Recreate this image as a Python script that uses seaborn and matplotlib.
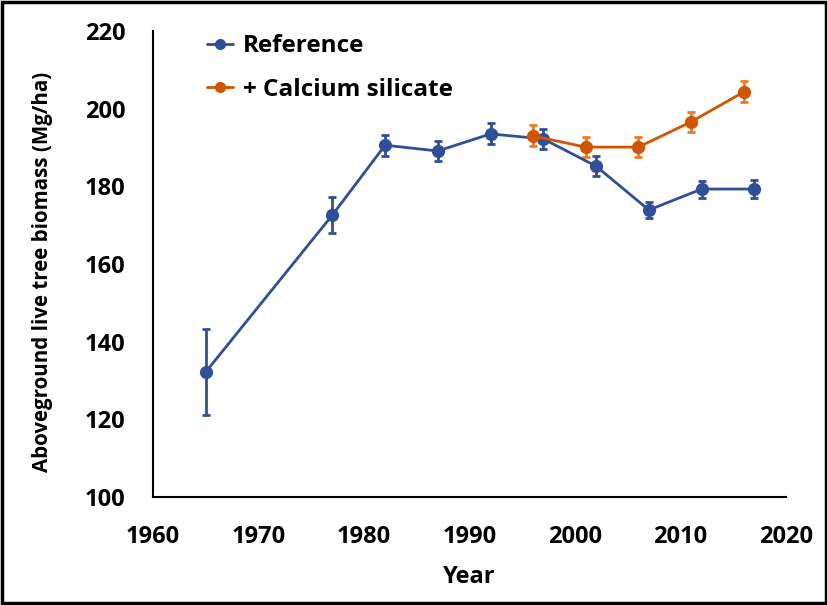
import matplotlib
matplotlib.use("Agg")
import matplotlib.pyplot as plt
import seaborn as sns
import pandas as pd
from matplotlib.patches import Rectangle

ref_years = [1965, 1977, 1982, 1987, 1992, 1997, 2002, 2007, 2012, 2017]
ref_vals = [132.2, 172.6, 190.6, 189.1, 193.5, 192.2, 185.2, 173.9, 179.3, 179.3]
ref_err = [11.0, 4.7, 2.7, 2.6, 2.7, 2.6, 2.5, 2.0, 2.2, 2.3]

ca_years = [1996, 2001, 2006, 2011, 2016]
ca_vals = [193.0, 190.1, 190.1, 196.6, 204.3]
ca_err = [2.7, 2.5, 2.5, 2.5, 2.7]

series_names = ["Reference", "+ Calcium silicate"]
line_colors = ["#2F4F9C", "#D35400"]
cap_colors = ["#2F4F9C", "#F07A1E"]

x_ticks = [1960, 1970, 1980, 1990, 2000, 2010, 2020]
y_ticks = [100, 120, 140, 160, 180, 200, 220]

sns.set_theme(style="white")
plt.rcParams['font.family'] = ['Open Sans', 'DejaVu Sans']
plt.rcParams['font.weight'] = 'bold'
plt.rcParams['text.color'] = 'black'
plt.rcParams['axes.labelcolor'] = 'black'
plt.rcParams['xtick.color'] = 'black'
plt.rcParams['ytick.color'] = 'black'

df = pd.concat([
    pd.DataFrame({"Year": ref_years, "Biomass": ref_vals, "err": ref_err, "Series": series_names[0]}),
    pd.DataFrame({"Year": ca_years, "Biomass": ca_vals, "err": ca_err, "Series": series_names[1]}),
])

fig = plt.figure(figsize=(8.28, 6.05), dpi=100)
ax = fig.add_axes([153/828, 108/605, 633/828, 466/605])

for name, lc, cc in zip(series_names, line_colors, cap_colors):
    sub = df[df.Series == name]
    ax.errorbar(sub.Year, sub.Biomass, yerr=sub.err, fmt='none', ecolor=cc,
                elinewidth=2, capsize=3, capthick=2, zorder=2)

sns.lineplot(data=df, x="Year", y="Biomass", hue="Series", palette=line_colors,
             hue_order=series_names, marker='o', markersize=9.5, markeredgewidth=0,
             linewidth=2, ax=ax, zorder=3, legend=True)

ax.set_xlim(1960, 2020)
ax.set_ylim(100, 220)
ax.set_xticks(x_ticks)
ax.set_yticks(y_ticks)
ax.tick_params(axis='both', direction='in', length=6, width=1.5, colors='black',
               labelcolor='black', labelsize=17)
for lab in ax.get_xticklabels() + ax.get_yticklabels():
    lab.set_fontweight('bold')
ax.tick_params(axis='x', pad=20)
ax.tick_params(axis='y', pad=20)
for s in ['top', 'right']:
    ax.spines[s].set_visible(False)
for s in ['left', 'bottom']:
    ax.spines[s].set_color('black')
    ax.spines[s].set_linewidth(1.5)

ax.set_xlabel("Year", fontsize=17, fontweight='bold', color='black', labelpad=12)
ax.set_ylabel("Aboveground live tree biomass (Mg/ha)", fontsize=14.8, fontweight='bold', color='black')
ax.yaxis.set_label_coords(-0.158, 0.483)

leg = ax.legend(loc='upper left', bbox_to_anchor=(0.05, 1.04), frameon=False,
                fontsize=17.5, handlelength=1.1, handletextpad=0.4, labelspacing=0.8)
for t in leg.get_texts():
    t.set_fontweight('bold')
    t.set_color('black')
for h in leg.legend_handles:
    h.set_markersize(8)

fig.patches.append(Rectangle((0.003, 0.004), 0.994, 0.992, transform=fig.transFigure,
                             fill=False, edgecolor='black', linewidth=2.5))

fig.savefig("out.png", dpi=100)
